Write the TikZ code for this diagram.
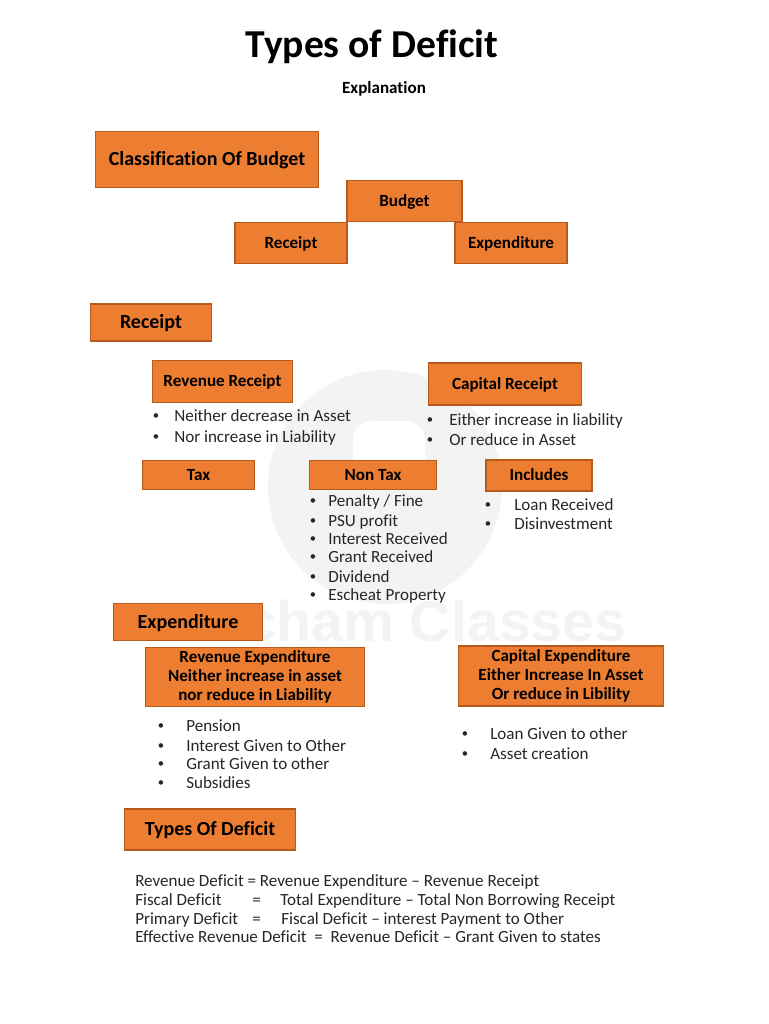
\documentclass[tikz,border=0pt]{standalone}
\usepackage{fontspec}
\setmainfont[Ligatures=NoCommon]{Carlito}
\newfontfamily\markfont{Liberation Sans}
\definecolor{boxfill}{HTML}{ED7D31}
\definecolor{boxline}{HTML}{B85A1E}
\definecolor{markgray}{HTML}{F3F3F3}
\tikzset{
  boxbase/.style={draw=boxline,line width=1.2pt,fill=boxfill,align=center,inner sep=0pt},
  box/.style={boxbase,font=\bfseries\fontsize{12.8}{12.8}\selectfont,text height=8pt,text depth=0pt},
  bigbox/.style={boxbase,font=\bfseries\fontsize{15}{15}\selectfont,text height=9.5pt,text depth=0pt},
  multibox/.style={boxbase,font=\bfseries\fontsize{12.8}{12.8}\selectfont},
  bul/.style={anchor=center,font=\fontsize{9.5}{9.5}\selectfont,text=black!85},
  itm/.style={anchor=base west,inner sep=0pt,font=\fontsize{12.8}{12.8}\selectfont,text=black!85},
}
\newcommand{\bitem}[4]{% bullet x, text x, baseline y, text
  \node[bul] at (#1,#3-3) {•};
  \node[itm] at (#2,#3+1) {#4};
}
\begin{document}
\begin{tikzpicture}[x=0.75pt,y=-0.75pt]
    \useasboundingbox (0,0) rectangle (768,1024);
    % watermark
    \fill[markgray] (385,487) circle (117);
    \fill[white,rounded corners=14] (353,480) -- (353,421) -- (425,421) -- (425,480) -- cycle;
    \node[anchor=base east,font=\markfont\bfseries\fontsize{43}{43}\selectfont,text=markgray,inner sep=0pt] (mark) at (627,641) {cham Classes};

    \node[anchor=base,font=\bfseries\fontsize{29.7}{29.7}\selectfont,inner sep=0pt] (title) at (372,58) {Types of Deficit};
    \node[anchor=base,font=\bfseries\fontsize{12.8}{12.8}\selectfont,inner sep=0pt] (sub) at (384,93.5) {Explanation};

    \node[bigbox,minimum width=167pt,minimum height=42pt] (classify) at (207,159.5) {Classification Of Budget};
    \node[box,minimum width=86pt,minimum height=31pt] (budget) at (404.5,201) {Budget};
    \node[box,minimum width=84pt,minimum height=31pt] (rcpt) at (291,243) {Receipt};
    \node[box,minimum width=84pt,minimum height=31pt] (expd) at (511,243) {Expenditure};

    \node[bigbox,minimum width=91pt,minimum height=28pt] (receipt) at (151,322.5) {Receipt};
    \node[box,minimum width=105pt,minimum height=31.5pt] (revrcpt) at (222.5,381.5) {Revenue Receipt};
    \node[box,minimum width=115pt,minimum height=31.5pt] (caprcpt) at (505,384) {Capital Receipt};
    \bitem{156}{174}{420}{Neither decrease in Asset}
    \bitem{156}{174}{441}{Nor increase in Liability}
    \bitem{430}{449}{424}{Either increase in liability}
    \bitem{430}{449}{444}{Or reduce in Asset}

    \node[box,minimum width=84pt,minimum height=22pt] (tax) at (198.5,475) {Tax};
    \node[box,minimum width=95pt,minimum height=22pt] (nontax) at (373,475) {Non Tax};
    \node[box,minimum width=79.5pt,minimum height=23pt] (incl) at (539,475.5) {Includes};
    \foreach \ypos/\txt in {505/{Penalty / Fine},525/PSU profit,543/Interest Received,561/Grant Received,581/Dividend,599/Escheat Property}{
      \bitem{313}{328}{\ypos}{\txt}
    }
    \bitem{488}{514}{509}{Loan Received}
    \bitem{488}{514}{528}{Disinvestment}

    \node[bigbox,minimum width=112pt,minimum height=27.5pt] (expend) at (188,622) {Expenditure};
    \node[multibox,minimum width=164pt,minimum height=44pt] (revexp) at (255,677) {Revenue Expenditure\\[1.3pt]Neither increase in asset\\[1.3pt]nor reduce in Liability};
    \node[multibox,minimum width=154pt,minimum height=45pt] (capexp) at (561,676) {Capital Expenditure\\[1.3pt]Either Increase In Asset\\[1.3pt]Or reduce in Libility};
    \foreach \ypos/\txt in {730/Pension,750/Interest Given to Other,768/Grant Given to other,787/Subsidies}{
      \bitem{161}{186}{\ypos}{\txt}
    }
    \bitem{465}{490}{738}{Loan Given to other}
    \bitem{465}{490}{758}{Asset creation}

    \node[bigbox,minimum width=128.5pt,minimum height=31pt] (types) at (210,829.5) {Types Of Deficit};
    \node[itm] (rd) at (135,886) {Revenue Deficit = Revenue Expenditure – Revenue Receipt};
    \node[itm] (fd) at (135,905) {Fiscal Deficit};
    \node[itm] at (252,905) {=};
    \node[itm] at (280,905) {Total Expenditure – Total Non Borrowing Receipt};
    \node[itm] (pd) at (135,924) {Primary Deficit};
    \node[itm] at (252,924) {=};
    \node[itm] at (281,924) {Fiscal Deficit – interest Payment to Other};
    \node[itm] (erd) at (135,942) {Effective Revenue Deficit\ \ =\ \ Revenue Deficit – Grant Given to states};
\end{tikzpicture}
\end{document}
